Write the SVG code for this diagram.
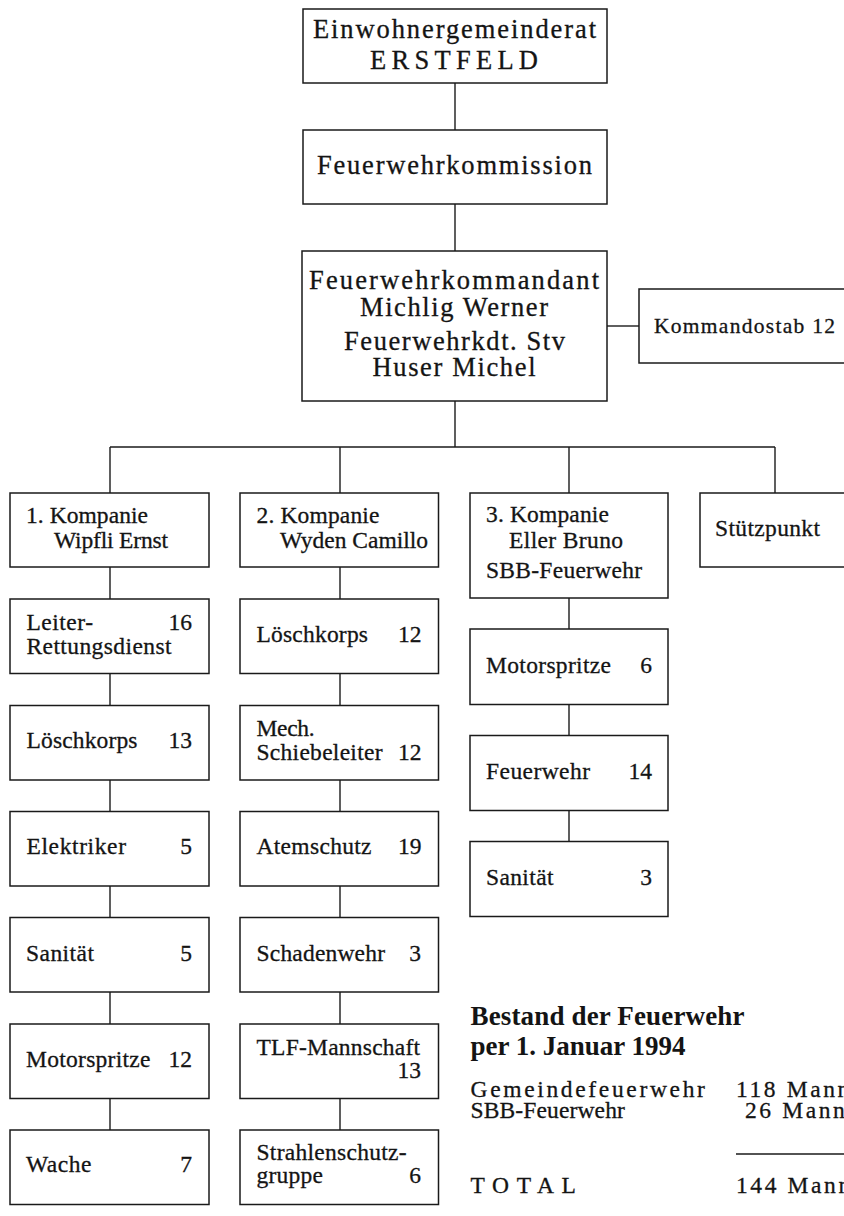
<svg xmlns="http://www.w3.org/2000/svg" width="844" height="1216" viewBox="0 0 844 1216">
<style>
.b{fill:#fff;stroke:#1a1a1a;stroke-width:1.5}
.c line{stroke:#1a1a1a;stroke-width:1.4}
text{font-family:"Liberation Serif","Times New Roman",Times,serif;fill:#141414;stroke:#141414;stroke-width:0.3}
.big{font-size:26.5px}
.mid{font-size:21.5px}
.lab{font-size:23.5px}
.num{font-size:23.5px;text-anchor:end}
.tt{font-size:27px;font-weight:bold;stroke-width:0}
.tb{font-size:23.5px;letter-spacing:2.6px}
</style>
<rect width="844" height="1216" fill="#fff"/>
<g class="c" id="connectors">
<line x1="455" y1="83" x2="455" y2="130"/>
<line x1="455" y1="204" x2="455" y2="251"/>
<line x1="607" y1="326" x2="639" y2="326"/>
<line x1="455" y1="401" x2="455" y2="447"/>
<line x1="110" y1="447" x2="775" y2="447"/>
<line x1="110" y1="447" x2="110" y2="493"/>
<line x1="340" y1="447" x2="340" y2="493"/>
<line x1="569" y1="447" x2="569" y2="493"/>
<line x1="775" y1="447" x2="775" y2="493"/>
<line x1="110" y1="567" x2="110" y2="599"/>
<line x1="110" y1="673.5" x2="110" y2="705.5"/>
<line x1="110" y1="780" x2="110" y2="811.5"/>
<line x1="110" y1="886" x2="110" y2="917.5"/>
<line x1="110" y1="992" x2="110" y2="1024"/>
<line x1="110" y1="1098.5" x2="110" y2="1130"/>
<line x1="340" y1="567" x2="340" y2="599"/>
<line x1="340" y1="673.5" x2="340" y2="705.5"/>
<line x1="340" y1="780" x2="340" y2="811.5"/>
<line x1="340" y1="886" x2="340" y2="917.5"/>
<line x1="340" y1="992" x2="340" y2="1024"/>
<line x1="340" y1="1098.5" x2="340" y2="1130"/>
<line x1="569" y1="598" x2="569" y2="629"/>
<line x1="569" y1="704.5" x2="569" y2="735.5"/>
<line x1="569" y1="810.5" x2="569" y2="841.5"/>
</g>
<g id="gemeinderat"><rect class="b" x="303" y="9" width="304" height="74"/>
<text class="big" x="313" y="37.5" textLength="283" lengthAdjust="spacing">Einwohnergemeinderat</text>
<text class="big" x="370" y="69" textLength="168" lengthAdjust="spacing">ERSTFELD</text></g>
<g id="kommission"><rect class="b" x="303" y="130" width="304" height="74"/>
<text class="big" x="317" y="174" textLength="275" lengthAdjust="spacing">Feuerwehrkommission</text></g>
<g id="kommandant"><rect class="b" x="302" y="251" width="305" height="150"/>
<text class="big" x="309" y="289" textLength="290" lengthAdjust="spacing">Feuerwehrkommandant</text>
<text class="big" x="360" y="315.5" textLength="188" lengthAdjust="spacing">Michlig Werner</text>
<text class="big" x="344" y="350" textLength="221" lengthAdjust="spacing">Feuerwehrkdt. Stv</text>
<text class="big" x="372.5" y="375.5" textLength="163" lengthAdjust="spacing">Huser Michel</text></g>
<g id="kommandostab"><rect class="b" x="639" y="289" width="215" height="74"/>
<text class="mid" x="654" y="333" textLength="181" lengthAdjust="spacing">Kommandostab 12</text></g>
<g id="k1"><rect class="b" x="10" y="493" width="199" height="74"/>
<text class="lab" x="26" y="523" textLength="122" lengthAdjust="spacing">1. Kompanie</text>
<text class="lab" x="54" y="547.5" textLength="114" lengthAdjust="spacing">Wipfli Ernst</text></g>
<g id="k2"><rect class="b" x="240" y="493" width="198.5" height="74"/>
<text class="lab" x="256.5" y="523" textLength="123" lengthAdjust="spacing">2. Kompanie</text>
<text class="lab" x="280" y="547.5" textLength="148" lengthAdjust="spacing">Wyden Camillo</text></g>
<g id="k3"><rect class="b" x="470" y="493" width="198" height="105"/>
<text class="lab" x="486" y="522" textLength="123" lengthAdjust="spacing">3. Kompanie</text>
<text class="lab" x="509" y="548" textLength="114" lengthAdjust="spacing">Eller Bruno</text>
<text class="lab" x="486" y="578" textLength="156" lengthAdjust="spacing">SBB-Feuerwehr</text></g>
<g id="stuetzpunkt"><rect class="b" x="700" y="493" width="154" height="74"/>
<text class="lab" x="715" y="536" textLength="105" lengthAdjust="spacing">Stützpunkt</text></g>
<g id="c1r1"><rect class="b" x="10" y="599" width="199" height="74.5"/>
<text class="lab" x="26.5" y="630" textLength="66.5" lengthAdjust="spacing">Leiter-</text>
<text class="lab" x="26.5" y="654" textLength="145" lengthAdjust="spacing">Rettungsdienst</text>
<text class="num" x="192" y="630">16</text></g>
<g id="c1r2"><rect class="b" x="10" y="705.5" width="199" height="74.5"/>
<text class="lab" x="26.5" y="748" textLength="111" lengthAdjust="spacing">Löschkorps</text>
<text class="num" x="192" y="748">13</text></g>
<g id="c1r3"><rect class="b" x="10" y="811.5" width="199" height="74.5"/>
<text class="lab" x="26.5" y="854" textLength="99.5" lengthAdjust="spacing">Elektriker</text>
<text class="num" x="192" y="854">5</text></g>
<g id="c1r4"><rect class="b" x="10" y="917.5" width="199" height="74.5"/>
<text class="lab" x="26" y="961" textLength="68" lengthAdjust="spacing">Sanität</text>
<text class="num" x="192" y="961">5</text></g>
<g id="c1r5"><rect class="b" x="10" y="1024" width="199" height="74.5"/>
<text class="lab" x="26" y="1066.5" textLength="124.5" lengthAdjust="spacing">Motorspritze</text>
<text class="num" x="192" y="1066.5">12</text></g>
<g id="c1r6"><rect class="b" x="10" y="1130" width="199" height="74.5"/>
<text class="lab" x="26" y="1172" textLength="65.5" lengthAdjust="spacing">Wache</text>
<text class="num" x="192" y="1172">7</text></g>
<g id="c2r1"><rect class="b" x="240" y="599" width="198.5" height="74.5"/>
<text class="lab" x="256.5" y="642" textLength="111.5" lengthAdjust="spacing">Löschkorps</text>
<text class="num" x="421.5" y="642">12</text></g>
<g id="c2r2"><rect class="b" x="240" y="705.5" width="198.5" height="74.5"/>
<text class="lab" x="256.5" y="735.5" textLength="58" lengthAdjust="spacing">Mech.</text>
<text class="lab" x="256.5" y="760" textLength="126" lengthAdjust="spacing">Schiebeleiter</text>
<text class="num" x="421.5" y="760">12</text></g>
<g id="c2r3"><rect class="b" x="240" y="811.5" width="198.5" height="74.5"/>
<text class="lab" x="256.5" y="854" textLength="115" lengthAdjust="spacing">Atemschutz</text>
<text class="num" x="421.5" y="854">19</text></g>
<g id="c2r4"><rect class="b" x="240" y="917.5" width="198.5" height="74.5"/>
<text class="lab" x="256.5" y="961" textLength="128.5" lengthAdjust="spacing">Schadenwehr</text>
<text class="num" x="421" y="961">3</text></g>
<g id="c2r5"><rect class="b" x="240" y="1024" width="198.5" height="74.5"/>
<text class="lab" x="256.5" y="1055" textLength="163.5" lengthAdjust="spacing">TLF-Mannschaft</text>
<text class="num" x="421" y="1077.5">13</text></g>
<g id="c2r6"><rect class="b" x="240" y="1130" width="198.5" height="74.5"/>
<text class="lab" x="256.5" y="1160" textLength="150" lengthAdjust="spacing">Strahlenschutz-</text>
<text class="lab" x="256.5" y="1183" textLength="66.5" lengthAdjust="spacing">gruppe</text>
<text class="num" x="421" y="1183">6</text></g>
<g id="c3r1"><rect class="b" x="470" y="629" width="198" height="75.5"/>
<text class="lab" x="486" y="672.5" textLength="125" lengthAdjust="spacing">Motorspritze</text>
<text class="num" x="652" y="672.5">6</text></g>
<g id="c3r2"><rect class="b" x="470" y="735.5" width="198" height="75"/>
<text class="lab" x="486" y="779" textLength="104" lengthAdjust="spacing">Feuerwehr</text>
<text class="num" x="652" y="779">14</text></g>
<g id="c3r3"><rect class="b" x="470" y="841.5" width="198" height="75"/>
<text class="lab" x="486" y="885" textLength="67.5" lengthAdjust="spacing">Sanität</text>
<text class="num" x="652" y="885">3</text></g>
<g id="bestand">
<text class="tt" x="470.5" y="1025" textLength="274" lengthAdjust="spacing">Bestand der Feuerwehr</text>
<text class="tt" x="470.5" y="1055">per 1. Januar 1994</text>
<text class="tb" x="470.5" y="1097" textLength="237" lengthAdjust="spacing">Gemeindefeuerwehr</text>
<text class="tb" x="736" y="1097">118 Mann</text>
<text class="tb" x="470.5" y="1118" textLength="157" lengthAdjust="spacing">SBB-Feuerwehr</text>
<text class="tb" x="745" y="1118">26 Mann</text>
<line x1="736" y1="1154" x2="850" y2="1154" stroke="#1a1a1a" stroke-width="1.4"/>
<text class="tb" x="470.5" y="1193" textLength="108" lengthAdjust="spacing">TOTAL</text>
<text class="tb" x="736" y="1193">144 Mann</text>
</g>
</svg>
